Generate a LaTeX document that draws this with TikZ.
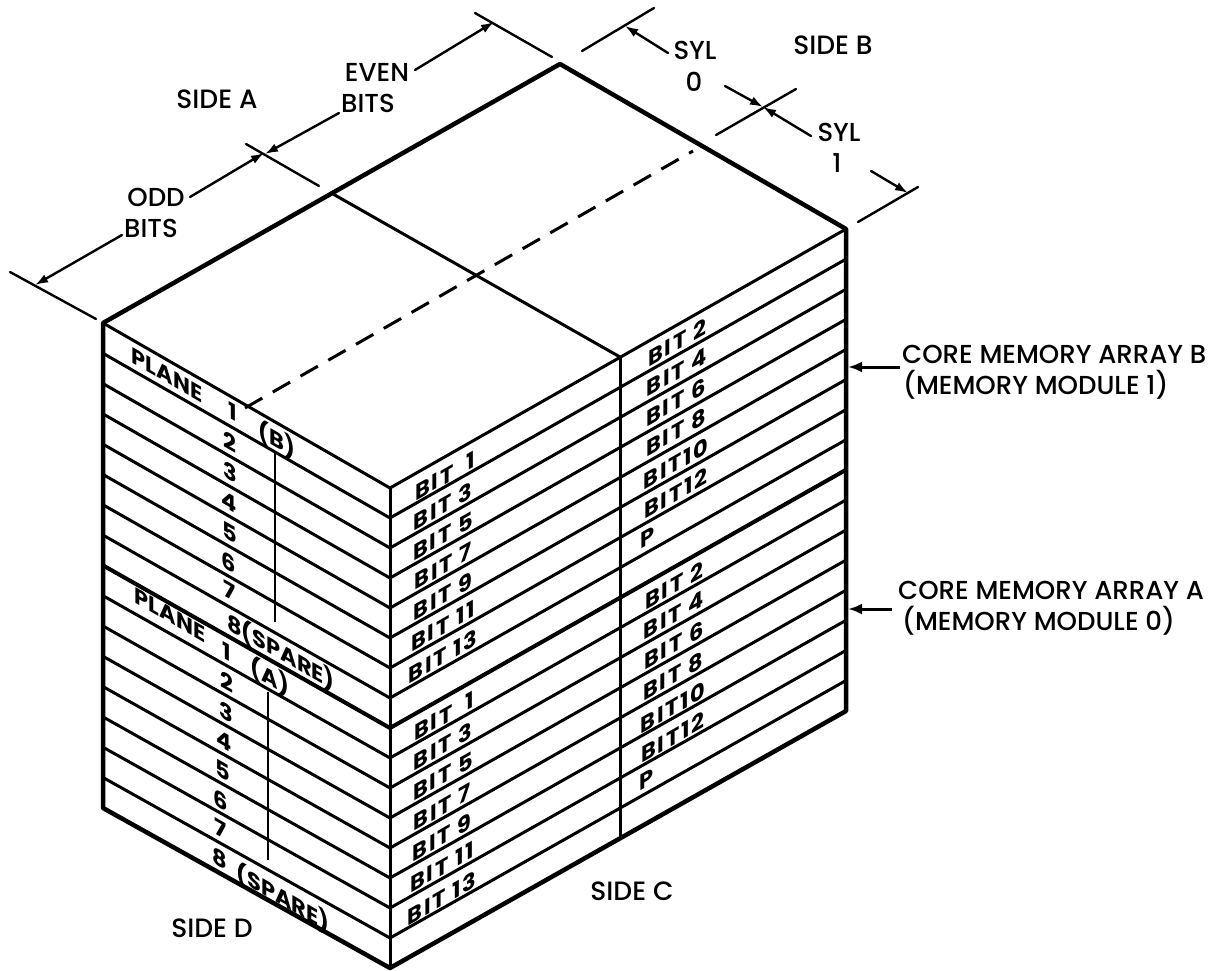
\documentclass[tikz,border=0pt]{standalone}
\usepackage{fontspec}
\usetikzlibrary{arrows.meta}
\setmainfont{Poppins}[UprightFont=* Medium]
\newfontfamily\lblfont[LetterSpace=8]{Poppins}
\newfontfamily\planefont{Poppins}
\tikzset{
  heavy/.style={line width=4.5pt,line cap=round,line join=round},
  medium/.style={line width=3pt},
  thin rule/.style={line width=2.2pt},
  dim/.style={line width=2.4pt,line cap=round},
  dimarrow/.style={line width=2.4pt,line cap=round,-{Latex[length=13pt,width=9pt]}},
  caption/.style={font=\fontsize{26}{26}\selectfont,inner sep=0pt,anchor=center},
  sidecap/.style={font=\fontsize{26.5}{26.5}\selectfont,inner sep=0pt,anchor=center},
  corecap/.style={font=\fontsize{26}{26}\selectfont,inner sep=0pt,anchor=west},
  facelabel/.style={font=\lblfont\bfseries\fontsize{22.5}{22.5}\selectfont,inner sep=0pt,transform shape,anchor=center},
  planelabel/.style={font=\planefont\bfseries\fontsize{22.5}{22.5}\selectfont,inner sep=0pt,transform shape,anchor=center},
}
\newcommand{\leftlabel}[4]{\begin{scope}[shift={(#2,#3)},yslant=-0.575]\node[planelabel] (#1) at (0,0) {#4};\end{scope}}
\newcommand{\rightlabel}[4]{\begin{scope}[shift={(#2,#3)},yslant=0.575]\node[facelabel] (#1) at (0,0) {#4};\end{scope}}
\begin{document}
\begin{tikzpicture}[x=1pt,y=-1pt]
\useasboundingbox (0,0) rectangle (1212,971);
\fill[white] (0,0) rectangle (1212,971);
% corners
\coordinate (L) at (103,323);
\coordinate (T) at (560,64);
\coordinate (R) at (846,229);
\coordinate (F) at (390,488);
\coordinate (LB) at (103,808);
\coordinate (FB) at (390,968);
\coordinate (RB) at (846,711);
\coordinate (TM) at (333,194);
\coordinate (FM) at (620,357);
\coordinate (FMB) at (620,838);
\coordinate (DA) at (245,408);
\coordinate (DB) at (693,151);
% bands on the two visible faces
\foreach \i in {1,...,15}{
  \pgfmathsetmacro{\yl}{323+30.3*\i}
  \pgfmathsetmacro{\yf}{488+30*\i}
  \pgfmathsetmacro{\yr}{229+30.1*\i}
  \draw[medium] (103,\yl) -- (390,\yf) -- (846,\yr);
}
\draw[line width=4pt] (103,565.4) -- (390,728) -- (846,469.8);
\draw[medium] (L) -- (F) -- (R);
\draw[medium] (TM) -- (FM);
\draw[line width=3pt] (F) -- (FB);
\draw[medium] (FM) -- (FMB);
\draw[heavy] (FB) -- (LB) -- (L) -- (T) -- (R) -- (RB) -- (FB);
\draw[medium,dash pattern=on 20pt off 12pt] (DA) -- (DB);
% verticals in the left face
\coordinate (VB1) at (275,453); \coordinate (VB2) at (275,622);
\coordinate (VA1) at (268,692); \coordinate (VA2) at (268,860);
\draw[thin rule] (VB1) -- (VB2);
\draw[thin rule] (VA1) -- (VA2);
% left-face labels
\leftlabel{pb}{167}{375}{PLANE}
\leftlabel{b1}{233}{412}{1}
\leftlabel{b2}{230}{442}{2}
\leftlabel{b3}{230}{472}{3}
\leftlabel{b4}{229}{502}{4}
\leftlabel{b5}{230}{532}{5}
\leftlabel{b6}{229}{562}{6}
\leftlabel{b7}{230}{591}{7}
\leftlabel{bb}{277}{440}{(B)}
\leftlabel{b8}{281}{652}{8(SPARE)}
\leftlabel{pa}{170}{615}{PLANE}
\leftlabel{a1}{227}{652}{1}
\leftlabel{a2}{227}{682}{2}
\leftlabel{a3}{226}{712}{3}
\leftlabel{a4}{224}{741}{4}
\leftlabel{a5}{223}{770}{5}
\leftlabel{a6}{221}{800}{6}
\leftlabel{a7}{221}{829}{7}
\leftlabel{a8}{220}{858}{8}
\leftlabel{aa}{270}{677}{(A)}
\leftlabel{as}{283}{898}{(SPARE)}
% right-face labels, left column
\rightlabel{u1}{445}{476}{BIT \ 1}
\rightlabel{u3}{443}{506}{BIT 3}
\rightlabel{u5}{443}{536}{BIT 5}
\rightlabel{u7}{443}{566}{BIT 7}
\rightlabel{u9}{443}{596}{BIT 9}
\rightlabel{u11}{443}{626}{BIT 11}
\rightlabel{u13}{443}{656}{BIT 13}
\rightlabel{l1}{444}{716}{BIT \ 1}
\rightlabel{l3}{443}{746}{BIT 3}
\rightlabel{l5}{443}{776}{BIT 5}
\rightlabel{l7}{442}{807}{BIT 7}
\rightlabel{l9}{442}{837}{BIT 9}
\rightlabel{l11}{442}{867}{BIT 11}
\rightlabel{l13}{442}{898}{BIT 13}
% right-face labels, right column
\rightlabel{v2}{677}{342}{BIT 2}
\rightlabel{v4}{677}{372}{BIT 4}
\rightlabel{v6}{676}{402}{BIT 6}
\rightlabel{v8}{676}{432}{BIT 8}
\rightlabel{v10}{676}{463}{BIT10}
\rightlabel{v12}{676}{493}{BIT12}
\rightlabel{vp}{648}{538}{P}
\rightlabel{w2}{674}{585}{BIT 2}
\rightlabel{w4}{674}{615}{BIT 4}
\rightlabel{w6}{674}{645}{BIT 6}
\rightlabel{w8}{673}{676}{BIT 8}
\rightlabel{w10}{673}{707}{BIT10}
\rightlabel{w12}{673}{737}{BIT12}
\rightlabel{wp}{647}{780}{P}
% side captions
\node[sidecap] (sa) at (217,99) {SIDE A};
\node[sidecap] (sb) at (833,45) {SIDE B};
\node[sidecap] (sc) at (632,891) {SIDE C};
\node[sidecap] (sd) at (212,928) {SIDE D};
% dimension ticks
\draw[dim] (10,272) -- (96,319);
\draw[dim] (246,144) -- (319,186);
\draw[dim] (475,13) -- (552,57);
\draw[dim] (582,51) -- (654,8);
\draw[dim] (716,135) -- (796,89);
\draw[dim] (858,222) -- (918,187);
% dimension captions
\node[caption] (even) at (377,72) {EVEN};
\node[caption] (ebits) at (368,103) {BITS};
\node[caption] (odd) at (156,197) {ODD};
\node[caption] (obits) at (151,228) {BITS};
\node[caption] (syl0) at (695,50) {SYL};
\node[caption] (n0) at (694,82) {0};
\node[caption] (syl1) at (839,132) {SYL};
\node[caption] (n1) at (837,163) {1};
% dimension arrows
\coordinate (a1s) at (122,235); \coordinate (a1e) at (35,285);
\coordinate (a2s) at (190,197); \coordinate (a2e) at (264,153);
\coordinate (a3s) at (339,113); \coordinate (a3e) at (265,154);
\coordinate (a4s) at (415,70);  \coordinate (a4e) at (494,22);
\coordinate (a5s) at (668,53);  \coordinate (a5e) at (625,26);
\coordinate (a6s) at (725,86);  \coordinate (a6e) at (763,107);
\coordinate (a7s) at (811,136); \coordinate (a7e) at (763,107);
\coordinate (a8s) at (871,171); \coordinate (a8e) at (908,193);
\foreach \k in {1,...,8}{\draw[dimarrow] (a\k s) -- (a\k e);}
% module captions
\node[corecap] (cb) at (902,354) {CORE MEMORY ARRAY B};
\node[corecap] (mb) at (903,385) {(MEMORY MODULE 1)};
\node[corecap] (ca) at (898,590) {CORE MEMORY ARRAY A};
\node[corecap] (ma) at (902,621) {(MEMORY MODULE 0)};
\coordinate (ab) at (900,367); \coordinate (abe) at (848,367);
\coordinate (aa) at (892,609); \coordinate (aae) at (848,609);
\draw[line width=3pt,-{Latex[length=14pt,width=11pt]}] (ab) -- (abe);
\draw[line width=3pt,-{Latex[length=14pt,width=11pt]}] (aa) -- (aae);
\end{tikzpicture}
\end{document}
